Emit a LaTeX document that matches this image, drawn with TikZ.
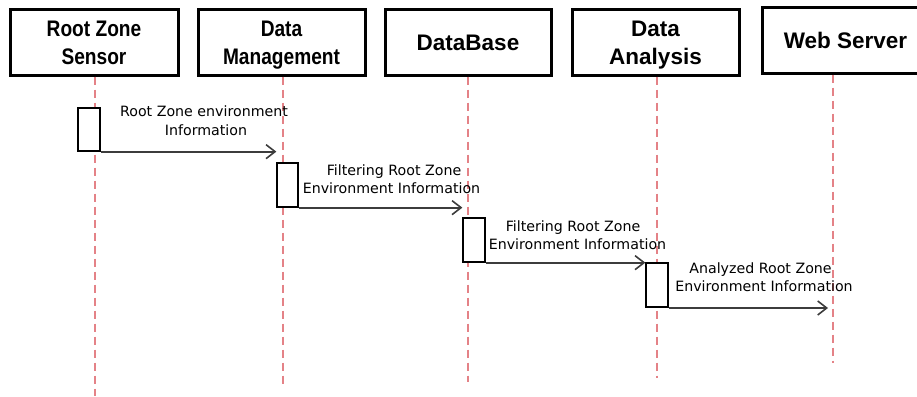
\documentclass[tikz,border=0pt]{standalone}
\usepackage{fontspec}
\usetikzlibrary{arrows.meta}
\newfontfamily\hdfont{Liberation Sans}
\newfontfamily\hdcond[FakeStretch=0.85]{Liberation Sans}
\newfontfamily\lbfont{DejaVu Sans}
\definecolor{lifered}{RGB}{228,130,135}
\definecolor{arrgray}{RGB}{60,60,60}
\tikzset{
  header/.style={draw=black, line width=3pt, minimum height=65pt, inner sep=0pt, align=center,
    font=\hdfont\bfseries\fontsize{22.5}{28}\selectfont},
  actbox/.style={draw=black, line width=1.3pt, fill=white, minimum width=22pt, minimum height=44pt, inner sep=0pt},
  lifeline/.style={draw=lifered, line width=1.3pt, dash pattern=on 8pt off 5pt},
  msg/.style={draw=arrgray, line width=1.7pt, -{Straight Barb[length=9pt,width=14pt,line width=1.6pt]}},
  lbl/.style={font=\lbfont\fontsize{14.2}{18}\selectfont, inner sep=0pt, anchor=base, text=black}
}
\begin{document}
\begin{tikzpicture}[x=1pt,y=-1pt]
\useasboundingbox (0,0) rectangle (917,396);
\clip (0,0) rectangle (917,396);
% header boxes
\node[header, minimum width=168pt] (h1) at (94,42.5) {\hdcond Root Zone\\\hdcond Sensor};
\node[header, minimum width=167pt] (h2) at (281.5,42.5) {\hdcond Data\\\smash{\hdcond Management}};
\node[header, minimum width=166pt] (h3) at (468,42.5) {DataBase};
\node[header, minimum width=167pt] (h4) at (655.5,42.5) {Data\\\smash{Analysis}};
\node[header, minimum width=167pt] (h5) at (845.5,40.5) {Web Server};
% lifeline ends
\coordinate (e1) at (95,396);
\coordinate (e2) at (283,386);
\coordinate (e3) at (468,382);
\coordinate (e4) at (657,378);
\coordinate (e5) at (833,363);
\draw[lifeline] (e1 |- h1.south) -- (e1);
\draw[lifeline] (e2 |- h2.south) -- (e2);
\draw[lifeline] (e3 |- h3.south) -- (e3);
\draw[lifeline] (e4 |- h4.south) -- (e4);
\draw[lifeline] (e5 |- h5.south) -- (e5);
% activation boxes
\node[actbox, minimum height=43pt] (a1) at (89,129.5) {};
\node[actbox, minimum width=21pt] (a2) at (287.5,185) {};
\node[actbox] (a3) at (474,240) {};
\node[actbox] (a4) at (657,285) {};
% messages
\coordinate (t4) at (828,308);
\draw[msg] (a1.south east) -- (a1.south east -| a2.west);
\draw[msg] (a2.south east) -- (a2.south east -| a3.west);
\draw[msg] (a3.south east) -- (a3.south east -| a4.west);
\draw[msg] (a4.south east |- t4) -- (t4);
% labels
\node[lbl] (m1a) at (204,116) {Root Zone environment};
\node[lbl] (m1b) at (206,135) {Information};
\node[lbl] (m2a) at (394,175) {Filtering Root Zone};
\node[lbl] (m2b) at (391.5,193) {Environment Information};
\node[lbl] (m3a) at (573,231) {Filtering Root Zone};
\node[lbl] (m3b) at (577.5,249) {Environment Information};
\node[lbl] (m4a) at (760.5,273) {Analyzed Root Zone};
\node[lbl] (m4b) at (764,291) {Environment Information};
\end{tikzpicture}
\end{document}
